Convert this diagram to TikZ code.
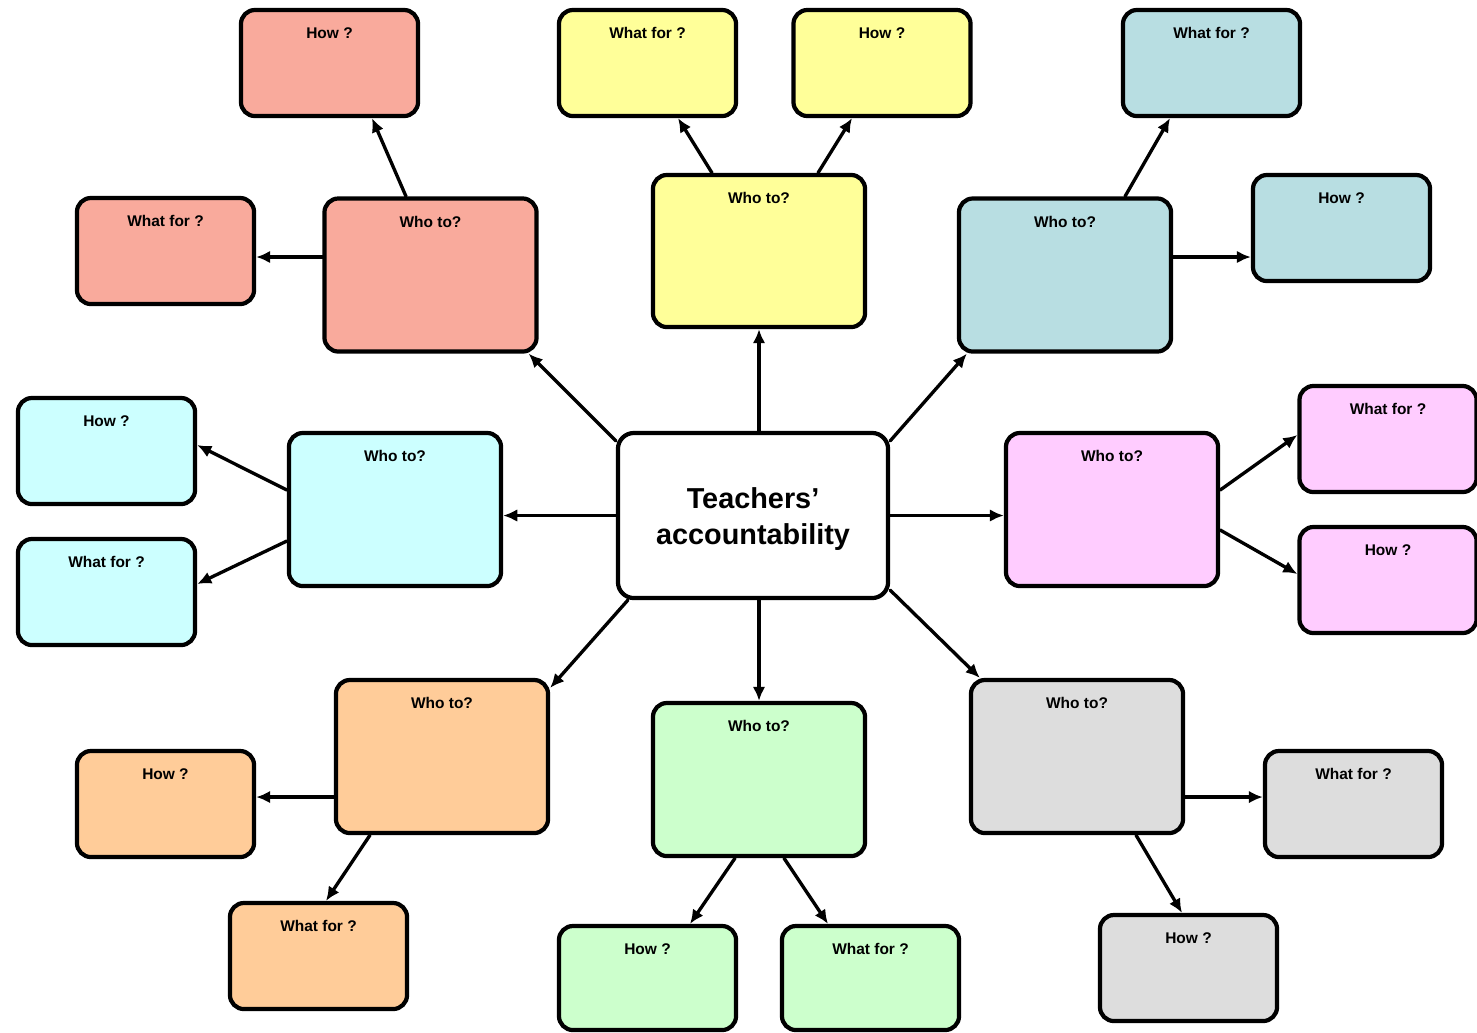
\documentclass[tikz,border=0pt]{standalone}
\usepackage{fontspec}
\setsansfont{Liberation Sans}
\usetikzlibrary{arrows.meta, calc}
\definecolor{redfill}{HTML}{F9AA9C}
\definecolor{yelfill}{HTML}{FFFF99}
\definecolor{tealfill}{HTML}{B8DEE2}
\definecolor{cyanfill}{HTML}{CCFFFF}
\definecolor{pinkfill}{HTML}{FFCCFF}
\definecolor{orfill}{HTML}{FFCC99}
\definecolor{grnfill}{HTML}{CCFFCC}
\definecolor{greyfill}{HTML}{DDDDDD}

\begin{document}
\begin{tikzpicture}[x=0.01cm, y=-0.01cm, >={Latex[length=4pt,width=3.6pt]},
	line cap=round, line join=round, font=\sffamily\bfseries,
	box/.style={draw, line width=1.2pt, rounded corners=0.14cm, inner sep=0pt},
	lab/.style={anchor=center, yshift=-0.255cm, inner sep=0pt,
		font=\sffamily\bfseries\fontsize{4.4}{5}\selectfont},
	hd/.style={label={[lab]north:{#1}}},
	who/.style={box, minimum width=2.12cm, minimum height=1.53cm, fill=#1},
	sub/.style={box, minimum width=1.77cm, minimum height=1.06cm, fill=#1},
	link/.style={->, line width=0.95pt}]

\useasboundingbox (0,0) rectangle (1477,1032);

% ==== centre ====
\node[box, fill=white, rounded corners=0.16cm, minimum width=2.70cm, minimum height=1.65cm,
	align=center, font=\sffamily\bfseries\fontsize{8.2}{10}\selectfont] (ctr) at (753,515.5)
	{\rule{0pt}{0.28cm}Teachers’\\accountability};

% ==== top left (red) ====
\node[who=redfill, hd=Who to?] (rwho) at (430.5,275) {};
\node[sub=redfill, hd=How ?] (rhow) at (329.5,63) {};
\node[sub=redfill, hd=What for ?] (rwf) at (165.5,251) {};
\draw[link] ([yshift=-0.1cm]ctr.north west) -- ([xshift=-0.1cm]rwho.south east);
\draw[link] ([xshift=-0.245cm]rwho.north) -- ([xshift=0.425cm]rhow.south);
\draw[link] ([yshift=0.18cm]rwho.west) -- ([yshift=0.18cm]rwho.west -| rwf.east);

% ==== top (yellow) ====
\node[who=yelfill, minimum height=1.52cm, hd=Who to?] (ywho) at (759,251) {};
\node[sub=yelfill, hd=What for ?] (ywf) at (647.5,63) {};
\node[sub=yelfill, hd=How ?] (yhow) at (882,63) {};
\draw[link] (ctr.north -| ywho.south) -- (ywho.south);
\draw[link] ([xshift=-0.47cm]ywho.north) -- ([xshift=0.305cm]ywf.south);
\draw[link] ([xshift=0.59cm]ywho.north) -- ([xshift=-0.30cm]yhow.south);

% ==== top right (teal) ====
\node[who=tealfill, hd=Who to?] (twho) at (1065,275) {};
\node[sub=tealfill, hd=What for ?] (twf) at (1211.5,63) {};
\node[sub=tealfill, hd=How ?] (thow) at (1341.5,228) {};
\draw[link] ([yshift=-0.1cm]ctr.north east) -- ([xshift=0.1cm]twho.south west);
\draw[link] ([xshift=0.6cm]twho.north) -- ([xshift=-0.415cm]twf.south);
\draw[link] ([yshift=0.18cm]twho.east) -- ([yshift=0.18cm]twho.east -| thow.west);

% ==== left (cyan) ====
\node[who=cyanfill, hd=Who to?] (cwho) at (395,509.5) {};
\node[sub=cyanfill, hd=How ?] (chow) at (106.5,451) {};
\node[sub=cyanfill, hd=What for ?] (cwf) at (106.5,592) {};
\draw[link] (ctr.west) -- (ctr.west -| cwho.east);
\draw[link] ([yshift=0.195cm]cwho.west) -- ([yshift=0.06cm]chow.east);
\draw[link] ([yshift=-0.315cm]cwho.west) -- ([yshift=0.08cm]cwf.east);

% ==== right (pink) ====
\node[who=pinkfill, hd=Who to?] (pwho) at (1112,509.5) {};
\node[sub=pinkfill, hd=What for ?] (pwf) at (1388,439) {};
\node[sub=pinkfill, hd=How ?] (phow) at (1388,580) {};
\draw[link] (ctr.east) -- (ctr.east -| pwho.west);
\draw[link] ([yshift=0.195cm]pwho.east) -- ([yshift=0.04cm]pwf.west);
\draw[link] ([yshift=-0.205cm]pwho.east) -- ([yshift=0.06cm]phow.west);

% ==== bottom left (orange) ====
\node[who=orfill, hd=Who to?] (owho) at (442,756.5) {};
\node[sub=orfill, hd=How ?] (ohow) at (165.5,804) {};
\node[sub=orfill, hd=What for ?] (owf) at (318.5,956) {};
\draw[link] ([xshift=0.12cm]ctr.south west) -- ([yshift=-0.1cm]owho.north east);
\draw[link] ([yshift=-0.405cm]owho.west) -- ([yshift=-0.405cm]owho.west -| ohow.east);
\draw[link] ([xshift=-0.72cm]owho.south) -- ([xshift=0.075cm]owf.north);

% ==== bottom (green) ====
\node[who=grnfill, hd=Who to?] (gwho) at (759,779.5) {};
\node[sub=grnfill, minimum height=1.04cm, hd=How ?] (ghow) at (647.5,978) {};
\node[sub=grnfill, minimum height=1.04cm, hd=What for ?] (gwf) at (870.5,978) {};
\draw[link] (ctr.south -| gwho.north) -- (gwho.north);
\draw[link] ([xshift=-0.24cm]gwho.south) -- ([xshift=0.425cm]ghow.north);
\draw[link] ([xshift=0.25cm]gwho.south) -- ([xshift=-0.425cm]gwf.north);

% ==== bottom right (grey) ====
\node[who=greyfill, hd=Who to?] (gywho) at (1077,756.5) {};
\node[sub=greyfill, hd=What for ?] (gywf) at (1353.5,804) {};
\node[sub=greyfill, hd=How ?] (gyhow) at (1188.5,968) {};
\draw[link] ([yshift=0.1cm]ctr.south east) -- ([xshift=0.11cm]gywho.north west);
\draw[link] ([yshift=-0.405cm]gywho.east) -- ([yshift=-0.405cm]gywho.east -| gywf.west);
\draw[link] ([xshift=0.59cm]gywho.south) -- ([xshift=-0.065cm]gyhow.north);

\end{tikzpicture}
\end{document}
